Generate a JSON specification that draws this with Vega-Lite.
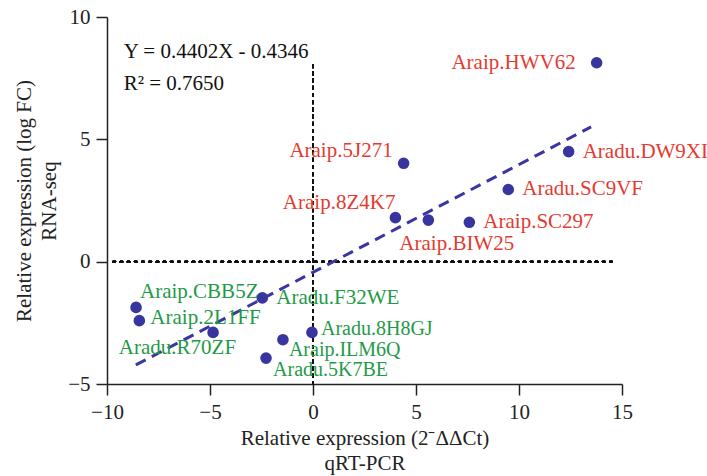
{
  "$schema": "https://vega.github.io/schema/vega-lite/v6.json",
  "width": 515,
  "height": 367,
  "autosize": {"type": "none"},
  "padding": {"left": 107, "top": 17, "right": 85, "bottom": 92},
  "background": "white",
  "config": {
    "view": {"stroke": null},
    "font": "Liberation Serif",
    "text": {"font": "Liberation Serif"},
    "axis": {
      "grid": false,
      "labelFlush": false,
      "domainColor": "#222",
      "domainWidth": 1.5,
      "tickColor": "#222",
      "tickWidth": 1.5,
      "tickSize": 11,
      "labelFont": "Liberation Serif",
      "labelFontSize": 21,
      "labelColor": "#222",
      "labelPadding": 6,
      "titleFont": "Liberation Serif",
      "titleFontSize": 21,
      "titleFontWeight": "normal",
      "titleColor": "#222",
      "titleLineHeight": 25
    }
  },
  "datasets": {
    "genes": [
      {"name": "Araip.HWV62", "qpcr": 13.77, "rnaseq": 8.13, "group": "up"},
      {"name": "Aradu.DW9XI", "qpcr": 12.41, "rnaseq": 4.5, "group": "up"},
      {"name": "Aradu.SC9VF", "qpcr": 9.48, "rnaseq": 2.95, "group": "up"},
      {"name": "Araip.SC297", "qpcr": 7.59, "rnaseq": 1.61, "group": "up"},
      {"name": "Araip.BIW25", "qpcr": 5.6, "rnaseq": 1.7, "group": "up"},
      {"name": "Araip.8Z4K7", "qpcr": 4.0, "rnaseq": 1.8, "group": "up"},
      {"name": "Araip.5J271", "qpcr": 4.4, "rnaseq": 4.02, "group": "up"},
      {"name": "Araip.CBB5Z", "qpcr": -8.59, "rnaseq": -1.87, "group": "down"},
      {"name": "Araip.2L1FF", "qpcr": -8.43, "rnaseq": -2.41, "group": "down"},
      {"name": "Aradu.R70ZF", "qpcr": -4.85, "rnaseq": -2.89, "group": "down"},
      {"name": "Aradu.F32WE", "qpcr": -2.46, "rnaseq": -1.48, "group": "down"},
      {"name": "Araip.ILM6Q", "qpcr": -1.46, "rnaseq": -3.19, "group": "down"},
      {"name": "Aradu.5K7BE", "qpcr": -2.28, "rnaseq": -3.94, "group": "down"},
      {"name": "Aradu.8H8GJ", "qpcr": -0.05, "rnaseq": -2.89, "group": "down"}
    ],
    "fit": [
      {"qpcr": -8.6, "rnaseq": -4.22},
      {"qpcr": 13.5, "rnaseq": 5.51}
    ],
    "eq": [
      {"qpcr": -9.19, "rnaseq": 8.55, "label": "Y = 0.4402X - 0.4346"},
      {"qpcr": -9.19, "rnaseq": 7.27, "label": "R² = 0.7650"}
    ]
  },
  "data": {"name": "genes"},
  "encoding": {
    "x": {
      "field": "qpcr",
      "type": "quantitative",
      "scale": {"domain": [-10, 15], "nice": false, "zero": false},
      "axis": {
        "values": [-10, -5, 0, 5, 10, 15],
        "title": ["Relative expression (2⁻ΔΔCt)", "qRT-PCR"],
        "titlePadding": 5
      }
    },
    "y": {
      "field": "rnaseq",
      "type": "quantitative",
      "scale": {"domain": [-5, 10], "nice": false, "zero": false},
      "axis": {
        "values": [-5, 0, 5, 10],
        "title": ["Relative expression (log FC)", "RNA-seq"],
        "titlePadding": 8
      }
    }
  },
  "layer": [
    {
      "mark": {"type": "rule", "color": "#111", "strokeWidth": 2, "strokeDash": [2, 5.2], "strokeCap": "round"},
      "encoding": {
        "x": {"datum": 0},
        "y": {"datum": -5},
        "y2": {"datum": 8.2}
      }
    },
    {
      "mark": {"type": "rule", "color": "#111", "strokeWidth": 2, "strokeDash": [2, 5.2], "strokeCap": "round"},
      "encoding": {
        "y": {"datum": 0},
        "x": {"datum": -9.7},
        "x2": {"datum": 14.6}
      }
    },
    {
      "data": {"name": "fit"},
      "mark": {"type": "line", "color": "#3a35a0", "strokeWidth": 3, "strokeDash": [11, 7]},
      "encoding": {}
    },
    {
      "mark": {"type": "circle", "color": "#38369e", "opacity": 1, "size": 135},
      "encoding": {}
    },
    {
      "transform": [{"filter": {"field": "name", "oneOf": ["Aradu.DW9XI", "Aradu.SC9VF", "Araip.SC297", "Aradu.F32WE"]}}],
      "mark": {"type": "text", "align": "left", "baseline": "middle", "dx": 14, "fontSize": 21},
      "encoding": {"text": {"field": "name"}, "color": {"field": "group", "type": "nominal", "scale": {"domain": ["up", "down"], "range": ["#e53a30", "#1f9a48"]}, "legend": null}}
    },
    {
      "transform": [{"filter": {"field": "name", "equal": "Araip.2L1FF"}}],
      "mark": {"type": "text", "align": "left", "baseline": "middle", "dx": 11, "dy": -3, "fontSize": 21},
      "encoding": {"text": {"field": "name"}, "color": {"field": "group", "type": "nominal", "scale": {"domain": ["up", "down"], "range": ["#e53a30", "#1f9a48"]}, "legend": null}}
    },
    {
      "transform": [{"filter": {"field": "name", "equal": "Aradu.8H8GJ"}}],
      "mark": {"type": "text", "align": "left", "baseline": "middle", "dx": 9, "dy": -3, "fontSize": 20},
      "encoding": {"text": {"field": "name"}, "color": {"field": "group", "type": "nominal", "scale": {"domain": ["up", "down"], "range": ["#e53a30", "#1f9a48"]}, "legend": null}}
    },
    {
      "transform": [{"filter": {"field": "name", "equal": "Araip.ILM6Q"}}],
      "mark": {"type": "text", "align": "left", "baseline": "middle", "dx": 6, "dy": 10, "fontSize": 20},
      "encoding": {"text": {"field": "name"}, "color": {"field": "group", "type": "nominal", "scale": {"domain": ["up", "down"], "range": ["#e53a30", "#1f9a48"]}, "legend": null}}
    },
    {
      "transform": [{"filter": {"field": "name", "equal": "Aradu.5K7BE"}}],
      "mark": {"type": "text", "align": "left", "baseline": "middle", "dx": 7, "dy": 12, "fontSize": 20},
      "encoding": {"text": {"field": "name"}, "color": {"field": "group", "type": "nominal", "scale": {"domain": ["up", "down"], "range": ["#e53a30", "#1f9a48"]}, "legend": null}}
    },
    {
      "transform": [{"filter": {"field": "name", "equal": "Araip.HWV62"}}],
      "mark": {"type": "text", "align": "right", "baseline": "middle", "dx": -21, "fontSize": 21},
      "encoding": {"text": {"field": "name"}, "color": {"field": "group", "type": "nominal", "scale": {"domain": ["up", "down"], "range": ["#e53a30", "#1f9a48"]}, "legend": null}}
    },
    {
      "transform": [{"filter": {"field": "name", "equal": "Araip.5J271"}}],
      "mark": {"type": "text", "align": "right", "baseline": "middle", "dx": -11, "dy": -12, "fontSize": 21},
      "encoding": {"text": {"field": "name"}, "color": {"field": "group", "type": "nominal", "scale": {"domain": ["up", "down"], "range": ["#e53a30", "#1f9a48"]}, "legend": null}}
    },
    {
      "transform": [{"filter": {"field": "name", "equal": "Araip.8Z4K7"}}],
      "mark": {"type": "text", "align": "right", "baseline": "middle", "dx": 0, "dy": -15, "fontSize": 21},
      "encoding": {"text": {"field": "name"}, "color": {"field": "group", "type": "nominal", "scale": {"domain": ["up", "down"], "range": ["#e53a30", "#1f9a48"]}, "legend": null}}
    },
    {
      "transform": [{"filter": {"field": "name", "equal": "Araip.BIW25"}}],
      "mark": {"type": "text", "align": "left", "baseline": "middle", "dx": -29, "dy": 24, "fontSize": 21},
      "encoding": {"text": {"field": "name"}, "color": {"field": "group", "type": "nominal", "scale": {"domain": ["up", "down"], "range": ["#e53a30", "#1f9a48"]}, "legend": null}}
    },
    {
      "transform": [{"filter": {"field": "name", "equal": "Araip.CBB5Z"}}],
      "mark": {"type": "text", "align": "left", "baseline": "middle", "dx": 4, "dy": -15, "fontSize": 21},
      "encoding": {"text": {"field": "name"}, "color": {"field": "group", "type": "nominal", "scale": {"domain": ["up", "down"], "range": ["#e53a30", "#1f9a48"]}, "legend": null}}
    },
    {
      "transform": [{"filter": {"field": "name", "equal": "Aradu.R70ZF"}}],
      "mark": {"type": "text", "align": "right", "baseline": "middle", "dx": 23, "dy": 16, "fontSize": 21},
      "encoding": {"text": {"field": "name"}, "color": {"field": "group", "type": "nominal", "scale": {"domain": ["up", "down"], "range": ["#e53a30", "#1f9a48"]}, "legend": null}}
    },
    {
      "data": {"name": "eq"},
      "mark": {"type": "text", "align": "left", "baseline": "middle", "fontSize": 21, "color": "#111"},
      "encoding": {"text": {"field": "label"}}
    }
  ]
}
